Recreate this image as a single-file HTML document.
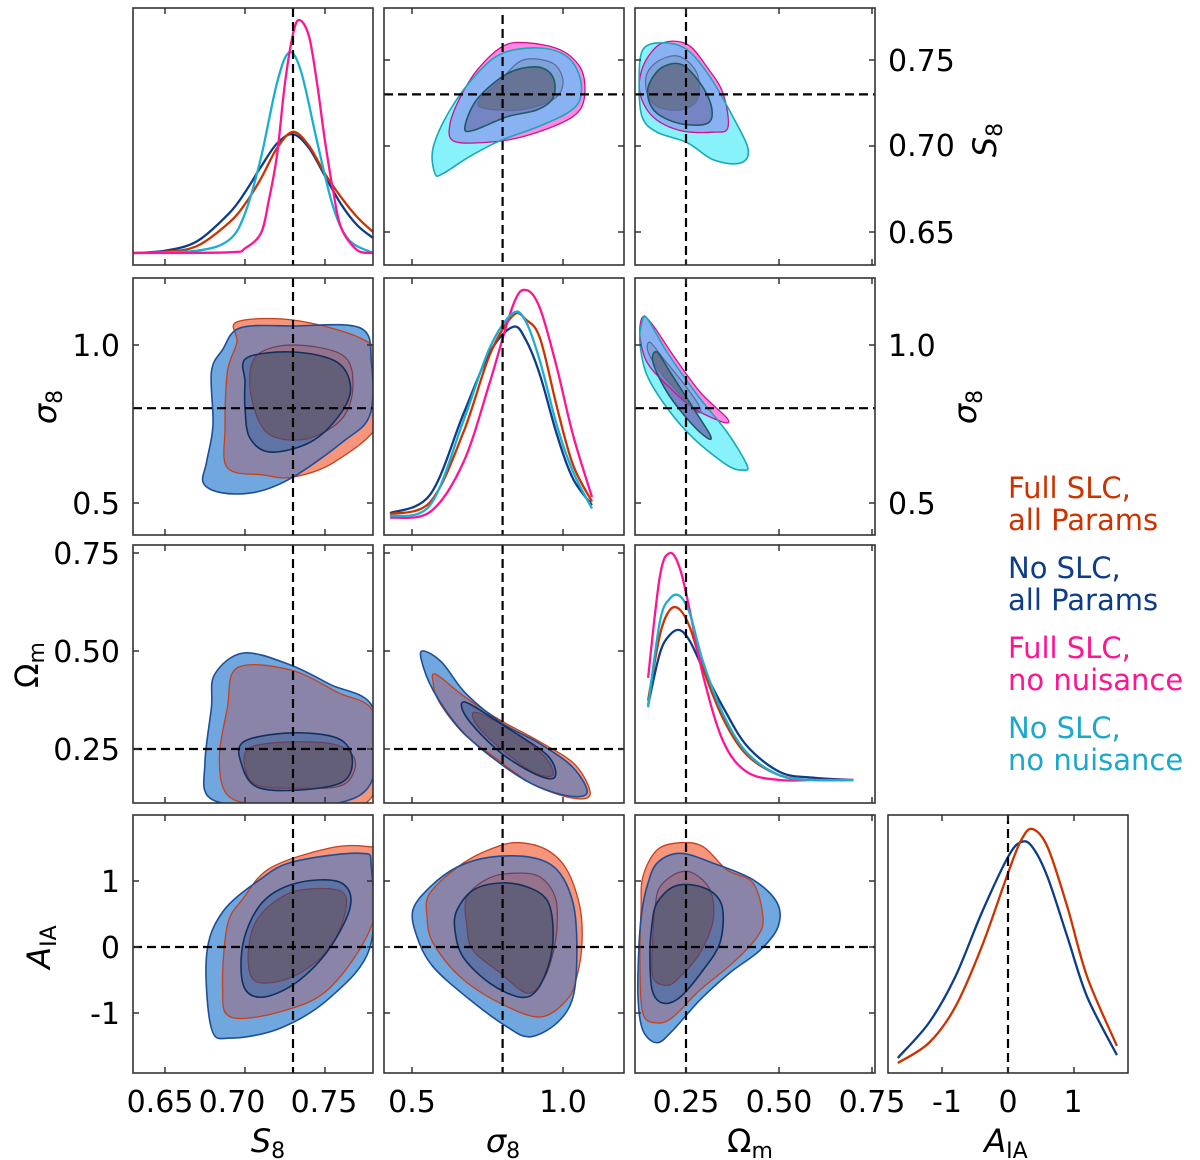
<!DOCTYPE html>
<html><head><meta charset="utf-8"><style>
html,body{margin:0;padding:0;background:#fff;width:1200px;height:1160px;overflow:hidden}
svg text{font-family:"DejaVu Sans","Liberation Sans",sans-serif;}
</style></head><body>
<svg id="fig" xmlns="http://www.w3.org/2000/svg" width="1200" height="1160" viewBox="0 0 1200 1160">
<defs id="defs"></defs>
<g id="content"></g>
<g id="labels">
  <text x="160" y="1112" font-size="30" text-anchor="middle">0.65</text>
  <text x="232" y="1112" font-size="30" text-anchor="middle">0.70</text>
  <text x="324" y="1112" font-size="30" text-anchor="middle">0.75</text>
  <text x="412" y="1112" font-size="30" text-anchor="middle">0.5</text>
  <text x="563" y="1112" font-size="30" text-anchor="middle">1.0</text>
  <text x="686" y="1112" font-size="30" text-anchor="middle">0.25</text>
  <text x="779" y="1112" font-size="30" text-anchor="middle">0.50</text>
  <text x="872" y="1112" font-size="30" text-anchor="middle">0.75</text>
  <text x="947" y="1112" font-size="30" text-anchor="middle">-1</text>
  <text x="1008" y="1112" font-size="30" text-anchor="middle">0</text>
  <text x="1073" y="1112" font-size="30" text-anchor="middle">1</text>
  <text x="268" y="1152" font-size="32" text-anchor="middle"><tspan font-style="italic">S</tspan><tspan font-size="22" dy="6">8</tspan></text>
  <text x="503" y="1152" font-size="32" text-anchor="middle"><tspan font-style="italic">σ</tspan><tspan font-size="22" dy="6">8</tspan></text>
  <text x="750" y="1152" font-size="32" text-anchor="middle">Ω<tspan font-size="22" dy="6">m</tspan></text>
  <text x="1006" y="1152" font-size="32" text-anchor="middle"><tspan font-style="italic">A</tspan><tspan font-size="22" dy="6">IA</tspan></text>
  <text x="120" y="356" font-size="30" text-anchor="end">1.0</text>
  <text x="120" y="514" font-size="30" text-anchor="end">0.5</text>
  <text x="120" y="564" font-size="30" text-anchor="end">0.75</text>
  <text x="120" y="662" font-size="30" text-anchor="end">0.50</text>
  <text x="120" y="760" font-size="30" text-anchor="end">0.25</text>
  <text x="120" y="892" font-size="30" text-anchor="end">1</text>
  <text x="120" y="958" font-size="30" text-anchor="end">0</text>
  <text x="120" y="1024" font-size="30" text-anchor="end">-1</text>
  <text x="888" y="71" font-size="30">0.75</text>
  <text x="888" y="156" font-size="30">0.70</text>
  <text x="888" y="243" font-size="30">0.65</text>
  <text x="888" y="356" font-size="30">1.0</text>
  <text x="888" y="514" font-size="30">0.5</text>
  <text transform="translate(56,407) rotate(-90)" font-size="32" text-anchor="middle"><tspan font-style="italic">σ</tspan><tspan font-size="22" dy="6">8</tspan></text>
  <text transform="translate(38,665) rotate(-90)" font-size="32" text-anchor="middle">Ω<tspan font-size="22" dy="6">m</tspan></text>
  <text transform="translate(50,947) rotate(-90)" font-size="32" text-anchor="middle"><tspan font-style="italic">A</tspan><tspan font-size="22" dy="6">IA</tspan></text>
  <text transform="translate(996,140) rotate(-90)" font-size="32" text-anchor="middle"><tspan font-style="italic">S</tspan><tspan font-size="22" dy="6">8</tspan></text>
  <text transform="translate(976,407) rotate(-90)" font-size="32" text-anchor="middle"><tspan font-style="italic">σ</tspan><tspan font-size="22" dy="6">8</tspan></text>
</g>
<g id="legend" font-size="29">
  <text x="1008" y="498" fill="#cc3300">Full SLC,</text>
  <text x="1008" y="530" fill="#cc3300">all Params</text>
  <text x="1008" y="578" fill="#0d3d8a">No SLC,</text>
  <text x="1008" y="610" fill="#0d3d8a">all Params</text>
  <text x="1008" y="658" fill="#ff1493">Full SLC,</text>
  <text x="1008" y="690" fill="#ff1493">no nuisance</text>
  <text x="1008" y="738" fill="#1aa8cc">No SLC,</text>
  <text x="1008" y="770" fill="#1aa8cc">no nuisance</text>
</g>
</svg>
<script>
// ---------- truth values ----------
const truthS8 = 0.73, truthSig = 0.8, truthOm = 0.25, truthA = 0;
// ---------- 1D marginals ----------
const s8Grid = [0.63,0.65,0.67,0.69,0.70,0.71,0.72,0.73,0.74,0.75,0.76,0.77,0.78];
const s8Red = [0,0.005,0.03,0.13,0.21,0.32,0.45,0.52,0.46,0.34,0.24,0.155,0.09];
const s8Blue = [0,0.01,0.05,0.17,0.26,0.37,0.47,0.51,0.45,0.33,0.21,0.12,0.065];
const s8CyanGrid = [0.63,0.67,0.69,0.70,0.71,0.72,0.7275,0.735,0.745,0.755,0.765,0.78];
const s8Cyan = [0,0.01,0.056,0.17,0.41,0.73,0.86,0.78,0.48,0.2,0.056,0];
const s8MagGrid = [0.63,0.69,0.70,0.71,0.715,0.72,0.725,0.73,0.734,0.74,0.745,0.75,0.755,0.76,0.77,0.78];
const s8Mag = [0,0.003,0.02,0.086,0.23,0.42,0.73,0.94,1.0,0.93,0.73,0.48,0.27,0.11,0.013,0];
const sigGrid = [0.427,0.56,0.67,0.758,0.835,0.878,0.924,0.98,1.033,1.096];
const sigRed = [0.026,0.078,0.38,0.72,0.89,0.87,0.79,0.49,0.24,0.08];
const sigMag = [0.01,0.035,0.25,0.6,0.935,1.0,0.92,0.66,0.37,0.1];
const sigCyan = [0.017,0.065,0.43,0.75,0.9,0.86,0.69,0.41,0.21,0.05];
const sigBlue = [0.03,0.11,0.46,0.73,0.84,0.78,0.63,0.37,0.18,0.065];
const omGrid = [0.148,0.180,0.207,0.234,0.261,0.296,0.35,0.414,0.503,0.591,0.70];
const omMag = [0.45,0.90,1.0,0.93,0.74,0.46,0.17,0.035,0,0,0];
const omRed = [0.35,0.64,0.75,0.75,0.67,0.49,0.27,0.11,0.02,0,0];
const omCyan = [0.32,0.70,0.80,0.81,0.73,0.52,0.29,0.12,0.02,0,0];
const omBlue = [0.33,0.56,0.64,0.66,0.61,0.49,0.32,0.15,0.035,0.01,0];
const aGrid = [-1.67,-1.2,-0.8,-0.4,0,0.2,0.37,0.6,0.9,1.2,1.65];
const aRed = [0.029,0.112,0.261,0.51,0.817,0.954,1.0,0.925,0.676,0.386,0.1];
const aBlue = [0.05,0.195,0.386,0.651,0.884,0.946,0.925,0.8,0.552,0.303,0.062];
// ---------- 2D contours (x values, y values) ----------
const r1c2Cyan2X = [0.576,0.570,0.626,0.715,0.801,0.924,1.013,1.056,1.056,1.013,0.914,0.791,0.692,0.603];
const r1c2Cyan2Y = [0.684,0.699,0.721,0.742,0.754,0.757,0.752,0.740,0.727,0.719,0.711,0.703,0.694,0.684];
const r1c2Mag2X = [0.715,0.801,0.881,0.990,1.056,1.073,1.056,0.990,0.858,0.735,0.636,0.626,0.659];
const r1c2Mag2Y = [0.744,0.758,0.760,0.756,0.746,0.733,0.721,0.713,0.705,0.702,0.703,0.713,0.728];
const r1c2Mag1X = [0.725,0.791,0.868,0.967,1.0,0.967,0.858,0.735];
const r1c2Mag1Y = [0.727,0.738,0.75,0.748,0.737,0.727,0.721,0.722];
const r1c2Cyan1X = [0.675,0.715,0.815,0.914,0.967,0.967,0.914,0.815,0.702];
const r1c2Cyan1Y = [0.711,0.727,0.742,0.746,0.740,0.728,0.721,0.717,0.709];
const r1c3Cyan2X = [0.134,0.188,0.253,0.315,0.376,0.417,0.395,0.323,0.253,0.172,0.132,0.124];
const r1c3Cyan2Y = [0.756,0.760,0.756,0.740,0.717,0.698,0.690,0.692,0.702,0.708,0.717,0.737];
const r1c3Mag2X = [0.134,0.172,0.215,0.261,0.306,0.349,0.363,0.323,0.234,0.161,0.126];
const r1c3Mag2Y = [0.746,0.758,0.761,0.758,0.746,0.731,0.711,0.708,0.709,0.717,0.731];
const r1c3Mag1X = [0.145,0.180,0.234,0.280,0.280,0.234,0.172,0.145];
const r1c3Mag1Y = [0.742,0.75,0.752,0.742,0.727,0.721,0.723,0.731];
const r1c3Cyan1X = [0.153,0.188,0.242,0.296,0.320,0.306,0.234,0.172,0.148];
const r1c3Cyan1Y = [0.737,0.746,0.747,0.734,0.721,0.713,0.713,0.719,0.728];
const r2c1Blue2X = [0.697,0.730,0.772,0.779,0.778,0.761,0.730,0.7075,0.686,0.674,0.676,0.680,0.679,0.686];
const r2c1Blue2Y = [1.054,1.060,1.054,0.946,0.778,0.693,0.582,0.535,0.532,0.563,0.630,0.747,0.915,0.985];
const r2c1Red2X = [0.695,0.730,0.772,0.785,0.784,0.756,0.730,0.711,0.689,0.6875,0.689,0.695];
const r2c1Red2Y = [1.073,1.079,1.022,0.946,0.756,0.630,0.582,0.589,0.611,0.737,0.915,1.009];
const r2c1Blue1X = [0.701,0.730,0.7575,0.766,0.759,0.741,0.716,0.703,0.700,0.700];
const r2c1Blue1Y = [0.959,0.978,0.946,0.864,0.778,0.693,0.661,0.706,0.801,0.883];
const r2c1Red1X = [0.7075,0.730,0.761,0.7675,0.761,0.741,0.720,0.709,0.703];
const r2c1Red1Y = [0.968,1.0,0.968,0.873,0.769,0.706,0.706,0.756,0.873];
const r2c3Cyan2X = [0.132,0.145,0.199,0.280,0.360,0.414,0.403,0.360,0.269,0.199,0.145,0.126];
const r2c3Cyan2Y = [1.073,1.085,0.978,0.842,0.725,0.620,0.604,0.620,0.706,0.801,0.905,1.009];
const r2c3Mag2X = [0.134,0.161,0.215,0.288,0.360,0.349,0.269,0.199,0.145,0.126];
const r2c3Mag2Y = [1.089,1.063,0.968,0.851,0.769,0.756,0.801,0.873,0.946,1.032];
const r2c3Mag1X = [0.153,0.188,0.253,0.288,0.280,0.234,0.180,0.148];
const r2c3Mag1Y = [1.009,0.959,0.864,0.801,0.788,0.842,0.915,0.978];
const r2c3Cyan1X = [0.172,0.207,0.269,0.315,0.307,0.261,0.199,0.161];
const r2c3Cyan1Y = [0.978,0.915,0.801,0.715,0.706,0.756,0.851,0.946];
const r3c1Blue2X = [0.699,0.728,0.753,0.780,0.779,0.753,0.711,0.678,0.675,0.679,0.681];
const r3c1Blue2Y = [0.495,0.465,0.415,0.355,0.166,0.107,0.102,0.125,0.217,0.355,0.440];
const r3c1Red2X = [0.695,0.728,0.7575,0.781,0.780,0.753,0.711,0.689,0.684,0.689];
const r3c1Red2Y = [0.457,0.452,0.395,0.337,0.133,0.102,0.107,0.133,0.227,0.355];
const r3c1Blue1X = [0.699,0.728,0.7575,0.767,0.761,0.7325,0.7075,0.698];
const r3c1Blue1Y = [0.268,0.291,0.278,0.227,0.166,0.145,0.153,0.209];
const r3c1Red1X = [0.703,0.728,0.7575,0.769,0.761,0.7325,0.7075,0.700];
const r3c1Red1Y = [0.253,0.268,0.260,0.217,0.158,0.150,0.158,0.202];
const r3c2Blue2X = [0.54,0.60,0.68,0.80,0.92,1.03,1.08,1.02,0.90,0.78,0.66,0.57,0.53];
const r3c2Blue2Y = [0.50,0.47,0.39,0.315,0.265,0.205,0.14,0.13,0.16,0.22,0.30,0.40,0.48];
const r3c2Red2X = [0.58,0.68,0.80,0.92,1.04,1.09,1.03,0.90,0.78,0.67,0.59,0.57];
const r3c2Red2Y = [0.44,0.38,0.32,0.27,0.21,0.135,0.125,0.16,0.225,0.29,0.37,0.42];
const r3c2Blue1X = [0.675,0.801,0.947,0.974,0.914,0.791,0.682];
const r3c2Blue1Y = [0.37,0.311,0.235,0.179,0.184,0.242,0.329];
const r3c2Red1X = [0.709,0.815,0.934,0.967,0.901,0.791,0.715];
const r3c2Red1Y = [0.344,0.304,0.235,0.184,0.191,0.253,0.311];
const r4c1Blue2X = [0.709,0.730,0.772,0.779,0.778,0.753,0.722,0.691,0.679,0.676,0.686];
const r4c1Blue2Y = [1.015,1.29,1.42,1.20,-0.015,-0.77,-1.23,-1.38,-1.23,-0.12,0.53];
const r4c1Red2X = [0.716,0.753,0.777,0.781,0.780,0.753,0.722,0.691,0.686,0.689,0.699];
const r4c1Red2Y = [1.20,1.50,1.52,1.39,0.38,-0.62,-0.98,-1.06,-0.62,0.33,0.74];
const r4c1Blue1X = [0.711,0.7325,0.759,0.766,0.753,0.7325,0.711,0.699,0.699];
const r4c1Blue1Y = [0.68,0.97,0.985,0.64,-0.015,-0.53,-0.76,-0.58,0.08];
const r4c1Red1X = [0.716,0.734,0.761,0.761,0.749,0.728,0.7075,0.702,0.705];
const r4c1Red1Y = [0.64,0.86,0.83,0.38,-0.12,-0.47,-0.53,-0.23,0.29];
const r4c2Blue2X = [0.503,0.560,0.649,0.758,0.891,0.980,1.033,1.046,1.033,0.980,0.891,0.815,0.692,0.570,0.517];
const r4c2Blue2Y = [0.56,0.91,1.21,1.36,1.36,1.17,0.67,-0.05,-0.76,-1.15,-1.36,-1.21,-0.80,-0.30,0.15];
const r4c2Red2X = [0.560,0.669,0.781,0.858,0.947,1.013,1.056,1.063,1.046,1.013,0.924,0.791,0.659,0.570,0.550];
const r4c2Red2Y = [0.82,1.27,1.52,1.58,1.47,1.17,0.61,0.06,-0.45,-0.80,-1.06,-0.85,-0.45,0.06,0.45];
const r4c2Blue1X = [0.649,0.702,0.791,0.881,0.947,0.967,0.957,0.914,0.858,0.758,0.669,0.642];
const r4c2Blue1Y = [0.56,0.86,0.97,0.91,0.71,0.30,-0.20,-0.65,-0.76,-0.55,-0.15,0.26];
const r4c2Red1X = [0.682,0.758,0.848,0.924,0.974,0.980,0.964,0.934,0.881,0.791,0.702,0.682];
const r4c2Red1Y = [0.76,1.05,1.12,1.06,0.76,0.30,-0.15,-0.50,-0.70,-0.39,-0.05,0.30];
const r4c3Blue2X = [0.145,0.172,0.234,0.323,0.430,0.495,0.497,0.449,0.368,0.288,0.215,0.172,0.134,0.121,0.124,0.132];
const r4c3Blue2Y = [0.91,1.27,1.42,1.27,1.02,0.67,0.30,-0.05,-0.39,-0.80,-1.26,-1.45,-1.26,-0.76,0.06,0.56];
const r4c3Red2X = [0.134,0.172,0.234,0.296,0.360,0.430,0.457,0.441,0.376,0.288,0.215,0.172,0.134,0.126,0.129];
const r4c3Red2Y = [1.06,1.47,1.58,1.52,1.17,0.97,0.45,0.15,-0.24,-0.65,-1.06,-1.15,-1.0,-0.2,0.56];
const r4c3Blue1X = [0.172,0.215,0.269,0.323,0.349,0.341,0.296,0.234,0.188,0.159,0.153,0.159];
const r4c3Blue1Y = [0.67,0.91,0.94,0.82,0.56,0.06,-0.35,-0.76,-0.85,-0.65,-0.09,0.36];
const r4c3Red1X = [0.180,0.226,0.269,0.315,0.323,0.288,0.234,0.199,0.161,0.161,0.167];
const r4c3Red1Y = [0.91,1.12,1.12,0.86,0.41,-0.09,-0.45,-0.58,-0.45,0.15,0.61];
// ---------- tick values ----------
const ticksS8 = [0.65,0.70,0.75], ticksSig = [0.5,1.0], ticksOm = [0.25,0.5,0.75], ticksA = [-1,0,1];

// ---------- axes ----------
const xS8 = v => 165 + (v-0.65)*1600;
const xSig = v => 412 + (v-0.5)*302;
const xOm = v => 686 + (v-0.25)*372;
const xA = v => 1008 + v*66;
const yS8 = v => 60 + (0.75-v)*1720;
const ySig = v => 345 + (1-v)*316;
const yOm = v => 749 + (0.25-v)*392;
const yA = v => 947 - v*66;
const dRow1 = d => 253 - d*233;
const dRow2 = d => 520 - d*230;
const dRow3 = d => 780 - d*227;
const dRow4 = d => 1070 - d*241;
const colsPx = [[133,373],[384,624],[635,875],[888,1128]];
const rowsPx = [[8,265],[278,535],[545,803],[815,1073]];

const NS = 'http://www.w3.org/2000/svg';
const content = document.getElementById('content');
const defs = document.getElementById('defs');
function mk(tag, attrs, parent){ const e=document.createElementNS(NS,tag); for(const k in attrs) e.setAttribute(k,attrs[k]); if(parent) parent.appendChild(e); return e; }

function smoothPath(pts, closed){
  const n=pts.length; let d='M'+pts[0][0].toFixed(1)+','+pts[0][1].toFixed(1);
  const get=i=>closed?pts[(i+n)%n]:pts[Math.max(0,Math.min(n-1,i))];
  const last=closed?n:n-1;
  for(let i=0;i<last;i++){
    const p0=get(i-1),p1=get(i),p2=get(i+1),p3=get(i+2);
    const c1=[p1[0]+(p2[0]-p0[0])/6,p1[1]+(p2[1]-p0[1])/6];
    const c2=[p2[0]-(p3[0]-p1[0])/6,p2[1]-(p3[1]-p1[1])/6];
    d+='C'+c1[0].toFixed(1)+','+c1[1].toFixed(1)+' '+c2[0].toFixed(1)+','+c2[1].toFixed(1)+' '+p2[0].toFixed(1)+','+p2[1].toFixed(1);
  }
  return d+(closed?'Z':'');
}
let clipN=0;
function panelGroup(c,r,name){
  const [x0,x1]=colsPx[c],[y0,y1]=rowsPx[r];
  const id='pc'+(clipN++);
  const cp=mk('clipPath',{id:id},defs); mk('rect',{x:x0,y:y0,width:x1-x0,height:y1-y0},cp);
  const g=mk('g',{'clip-path':'url(#'+id+')'},content);
  
  
  return g;
}
function contourD(xs,ys,fx,fy){ return smoothPath(xs.map((v,i)=>[fx(v),fy(ys[i])]),true); }
function fillPath(g,d,fill,name){
  const p=mk('path',{d:d,fill:fill,stroke:'none'},g);
  
  
  return p;
}
function strokePath(g,d,stroke,w,name){
  const p=mk('path',{d:d,fill:'none',stroke:stroke,'stroke-width':w},g);
  
  
}
function clipped(g,dClip,dFill,fill,name){
  const id='cc'+(clipN++);
  const cp=mk('clipPath',{id:id},defs); mk('path',{d:dClip},cp);
  const sub=mk('g',{'clip-path':'url(#'+id+')'},g);
  fillPath(sub,dFill,fill,name);
}
function panel2D(c,r,name,fx,fy,A2x,A2y,B2x,B2y,A1x,A1y,B1x,B1y,pal){
  const g=panelGroup(c,r,name);
  const a2=contourD(A2x,A2y,fx,fy), b2=contourD(B2x,B2y,fx,fy), a1=contourD(A1x,A1y,fx,fy), b1=contourD(B1x,B1y,fx,fy);
  fillPath(g,a2,pal.a2,'contour-'+pal.na+'-2sigma');
  fillPath(g,b2,pal.b2,'contour-'+pal.nb+'-2sigma');
  clipped(g,b2,a2,pal.ab2,'contour-overlap-2sigma');
  fillPath(g,a1,pal.a1,'contour-'+pal.na+'-1sigma');
  fillPath(g,b1,pal.b1,'contour-'+pal.nb+'-1sigma');
  clipped(g,b1,a1,pal.ab1,'contour-overlap-1sigma');
  strokePath(g,a2,pal.sa,1.3,'contour-line-'+pal.na+'-2sigma');
  strokePath(g,b2,pal.sb,1.6,'contour-line-'+pal.nb+'-2sigma');
  strokePath(g,a1,pal.sa1,1.2,'contour-line-'+pal.na+'-1sigma');
  strokePath(g,b1,pal.sb1,1.6,'contour-line-'+pal.nb+'-1sigma');
  return g;
}
const palRB={na:'full-slc-all',nb:'no-slc-all',a2:'#f4957c',b2:'#6fa7de',ab2:'#8a84a8',a1:'#96738c',b1:'#5f73a5',ab1:'#645f78',sa:'#c8401a',sb:'#1c4f98',sa1:'#6e3f58',sb1:'#12305e'};
const palMC={na:'full-slc-nonuis',nb:'no-slc-nonuis',a2:'#ff88e2',b2:'#88f2fa',ab2:'#88b2f2',a1:'#7da3d8',b1:'#7585c4',ab1:'#687496',sa:'#d01090',sb:'#18a8b8',sa1:'#5a6aa0',sb1:'#1d5a66'};

function curve(g,xs,ds,fx,fd,color,name){
  const p=mk('path',{d:smoothPath(xs.map((v,i)=>[fx(v),fd(ds[i])]),false),fill:'none',stroke:color,'stroke-width':2.3},g);
  
  
}
function vline(g,x,y0,y1,name){
  const l=mk('line',{x1:x,x2:x,y1:y0,y2:y1,stroke:'#000','stroke-width':2.2,'stroke-dasharray':'9,5'},g);
  
  
}
function hline(g,y,x0,x1,name){
  const l=mk('line',{x1:x0,x2:x1,y1:y,y2:y,stroke:'#000','stroke-width':2.2,'stroke-dasharray':'9,5'},g);
  
  
}
function frame(c,r,xt,fx,yt,fy,name){
  const [x0,x1]=colsPx[c],[y0,y1]=rowsPx[r];
  const g=mk('g',{},content);
  
  
  mk('rect',{x:x0,y:y0,width:x1-x0,height:y1-y0,fill:'none',stroke:'#333','stroke-width':1.6},g);
  xt.forEach(v=>{const X=fx(v); if(X<x0||X>x1)return;
    mk('line',{x1:X,x2:X,y1:y1,y2:y1-6,stroke:'#333','stroke-width':1.5},g);
    mk('line',{x1:X,x2:X,y1:y0,y2:y0+6,stroke:'#333','stroke-width':1.5},g);});
  if(yt) yt.forEach(v=>{const Y=fy(v); if(Y<y0||Y>y1)return;
    mk('line',{x1:x0,x2:x0+6,y1:Y,y2:Y,stroke:'#333','stroke-width':1.5},g);
    mk('line',{x1:x1,x2:x1-6,y1:Y,y2:Y,stroke:'#333','stroke-width':1.5},g);});
}

let g=panelGroup(0,0,'panel-s8-marginal');
curve(g,s8Grid,s8Blue,xS8,dRow1,'#0d3d8a','s8-curve-no-slc-all');
curve(g,s8Grid,s8Red,xS8,dRow1,'#cc3300','s8-curve-full-slc-all');
curve(g,s8CyanGrid,s8Cyan,xS8,dRow1,'#1aaed0','s8-curve-no-slc-nonuis');
curve(g,s8MagGrid,s8Mag,xS8,dRow1,'#ff1493','s8-curve-full-slc-nonuis');
vline(g,xS8(truthS8),8,265,'truth-line-s8');

g=panelGroup(1,1,'panel-sigma8-marginal');
curve(g,sigGrid,sigBlue,xSig,dRow2,'#0d3d8a','sigma8-curve-no-slc-all');
curve(g,sigGrid,sigRed,xSig,dRow2,'#cc3300','sigma8-curve-full-slc-all');
curve(g,sigGrid,sigMag,xSig,dRow2,'#ff1493','sigma8-curve-full-slc-nonuis');
curve(g,sigGrid,sigCyan,xSig,dRow2,'#1aaed0','sigma8-curve-no-slc-nonuis');
vline(g,xSig(truthSig),278,535,'truth-line-sigma8');

g=panelGroup(2,2,'panel-om-marginal');
curve(g,omGrid,omBlue,xOm,dRow3,'#0d3d8a','om-curve-no-slc-all');
curve(g,omGrid,omRed,xOm,dRow3,'#cc3300','om-curve-full-slc-all');
curve(g,omGrid,omMag,xOm,dRow3,'#ff1493','om-curve-full-slc-nonuis');
curve(g,omGrid,omCyan,xOm,dRow3,'#1aaed0','om-curve-no-slc-nonuis');
vline(g,xOm(truthOm),545,803,'truth-line-om');

g=panelGroup(3,3,'panel-aia-marginal');
curve(g,aGrid,aBlue,xA,dRow4,'#0d3d8a','aia-curve-no-slc-all');
curve(g,aGrid,aRed,xA,dRow4,'#cc3300','aia-curve-full-slc-all');
vline(g,xA(truthA),815,1073,'truth-line-aia');

g=panel2D(1,0,'panel-sigma8-s8',xSig,yS8,r1c2Mag2X,r1c2Mag2Y,r1c2Cyan2X,r1c2Cyan2Y,r1c2Mag1X,r1c2Mag1Y,r1c2Cyan1X,r1c2Cyan1Y,palMC);
vline(g,xSig(truthSig),15,265,'truth-vline'); hline(g,yS8(truthS8),384,624,'truth-hline');
g=panel2D(2,0,'panel-om-s8',xOm,yS8,r1c3Mag2X,r1c3Mag2Y,r1c3Cyan2X,r1c3Cyan2Y,r1c3Mag1X,r1c3Mag1Y,r1c3Cyan1X,r1c3Cyan1Y,palMC);
vline(g,xOm(truthOm),8,265,'truth-vline'); hline(g,yS8(truthS8),635,875,'truth-hline');
g=panel2D(0,1,'panel-s8-sigma8',xS8,ySig,r2c1Red2X,r2c1Red2Y,r2c1Blue2X,r2c1Blue2Y,r2c1Red1X,r2c1Red1Y,r2c1Blue1X,r2c1Blue1Y,palRB);
vline(g,xS8(truthS8),278,535,'truth-vline'); hline(g,ySig(truthSig),133,373,'truth-hline');
g=panel2D(2,1,'panel-om-sigma8',xOm,ySig,r2c3Mag2X,r2c3Mag2Y,r2c3Cyan2X,r2c3Cyan2Y,r2c3Mag1X,r2c3Mag1Y,r2c3Cyan1X,r2c3Cyan1Y,palMC);
vline(g,xOm(truthOm),278,535,'truth-vline'); hline(g,ySig(truthSig),635,875,'truth-hline');
g=panel2D(0,2,'panel-s8-om',xS8,yOm,r3c1Red2X,r3c1Red2Y,r3c1Blue2X,r3c1Blue2Y,r3c1Red1X,r3c1Red1Y,r3c1Blue1X,r3c1Blue1Y,palRB);
vline(g,xS8(truthS8),545,803,'truth-vline'); hline(g,yOm(truthOm),133,373,'truth-hline');
g=panel2D(1,2,'panel-sigma8-om',xSig,yOm,r3c2Red2X,r3c2Red2Y,r3c2Blue2X,r3c2Blue2Y,r3c2Red1X,r3c2Red1Y,r3c2Blue1X,r3c2Blue1Y,palRB);
vline(g,xSig(truthSig),545,803,'truth-vline'); hline(g,yOm(truthOm),394,624,'truth-hline');
g=panel2D(0,3,'panel-s8-aia',xS8,yA,r4c1Red2X,r4c1Red2Y,r4c1Blue2X,r4c1Blue2Y,r4c1Red1X,r4c1Red1Y,r4c1Blue1X,r4c1Blue1Y,palRB);
vline(g,xS8(truthS8),815,1073,'truth-vline'); hline(g,yA(truthA),133,373,'truth-hline');
g=panel2D(1,3,'panel-sigma8-aia',xSig,yA,r4c2Red2X,r4c2Red2Y,r4c2Blue2X,r4c2Blue2Y,r4c2Red1X,r4c2Red1Y,r4c2Blue1X,r4c2Blue1Y,palRB);
vline(g,xSig(truthSig),815,1073,'truth-vline'); hline(g,yA(truthA),394,624,'truth-hline');
g=panel2D(2,3,'panel-om-aia',xOm,yA,r4c3Red2X,r4c3Red2Y,r4c3Blue2X,r4c3Blue2Y,r4c3Red1X,r4c3Red1Y,r4c3Blue1X,r4c3Blue1Y,palRB);
vline(g,xOm(truthOm),815,1073,'truth-vline'); hline(g,yA(truthA),635,875,'truth-hline');

frame(0,0,ticksS8,xS8,null,null,'frame-s8-marginal');
frame(1,0,ticksSig,xSig,ticksS8,yS8,'frame-sigma8-s8');
frame(2,0,ticksOm,xOm,ticksS8,yS8,'frame-om-s8');
frame(0,1,ticksS8,xS8,ticksSig,ySig,'frame-s8-sigma8');
frame(1,1,ticksSig,xSig,null,null,'frame-sigma8-marginal');
frame(2,1,ticksOm,xOm,ticksSig,ySig,'frame-om-sigma8');
frame(0,2,ticksS8,xS8,ticksOm,yOm,'frame-s8-om');
frame(1,2,ticksSig,xSig,ticksOm,yOm,'frame-sigma8-om');
frame(2,2,ticksOm,xOm,null,null,'frame-om-marginal');
frame(0,3,ticksS8,xS8,ticksA,yA,'frame-s8-aia');
frame(1,3,ticksSig,xSig,ticksA,yA,'frame-sigma8-aia');
frame(2,3,ticksOm,xOm,ticksA,yA,'frame-om-aia');
frame(3,3,ticksA,xA,null,null,'frame-aia-marginal');
</script>
</body></html>
